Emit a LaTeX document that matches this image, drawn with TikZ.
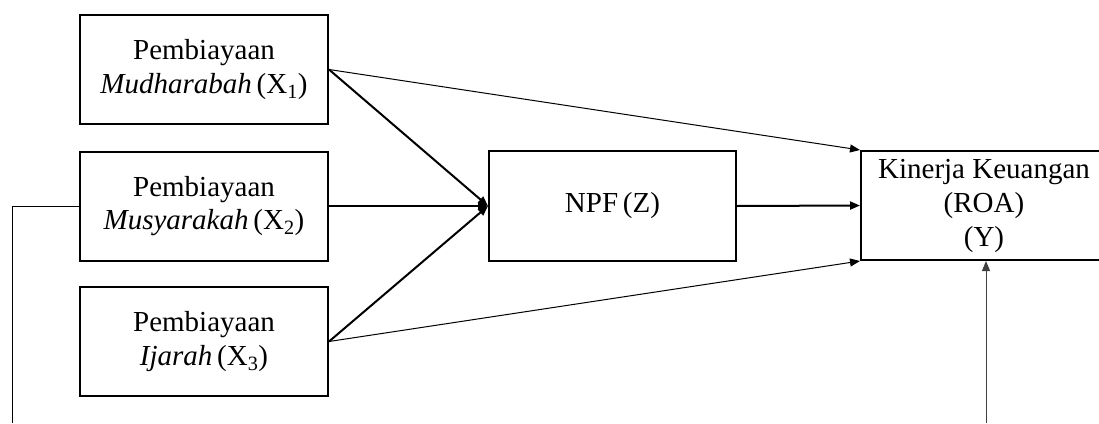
\documentclass[tikz,border=0pt]{standalone}
\usepackage{fontspec}
\setmainfont{Liberation Serif}
\usetikzlibrary{arrows.meta}
\begin{document}
\begin{tikzpicture}[x=1pt,y=-1pt,
  box/.style={draw, line width=2pt, align=center, inner sep=0pt,
    font=\fontsize{29}{33.5}\selectfont},
  xbox/.style={box, minimum width=248pt, minimum height=109pt},
  thick arrow/.style={line width=2pt, -{Triangle[length=10pt,width=8pt]}},
  thin arrow/.style={line width=1pt, -{Triangle[length=10pt,width=8pt]}},
  plain line/.style={line width=1pt}]
\useasboundingbox (0,0) rectangle (1099,423);
\node[xbox] (x1) at (204,69.5) {Pembiayaan\\\textit{Mudharabah}\,(X\textsubscript{1})};
\node[xbox] (x2) at (204,206) {Pembiayaan\\\textit{Musyarakah}\,(X\textsubscript{2})};
\node[xbox] (x3) at (204,341.5) {Pembiayaan\\\textit{Ijarah}\,(X\textsubscript{3})};
\node[box, minimum width=247pt, minimum height=110pt] (z) at (612.5,206) {NPF\,(Z)};
\node[box, minimum width=246pt, minimum height=109pt,
  font=\fontsize{29}{34}\selectfont] (y) at (984,205.5) {Kinerja Keuangan\\(ROA)\\(Y)};
\coordinate (l1) at (12,206);
\coordinate (l2) at (12,423);
\coordinate (b) at (986,423);
\draw[thin arrow] (x1.east) -- (y.north west);
\draw[thin arrow] (x3.east) -- (y.south west);
\draw[thick arrow] (x1.east) -- (z.west);
\draw[thick arrow] (x2.east) -- (z.west);
\draw[thick arrow] (x3.east) -- (z.west);
\draw[thick arrow] (z.east) -- (y.west);
\draw[thin arrow, draw=black!75] (b) -- (b |- y.south);
\draw[plain line] (x2.west) -- (l1) -- (l2);
\end{tikzpicture}
\end{document}
